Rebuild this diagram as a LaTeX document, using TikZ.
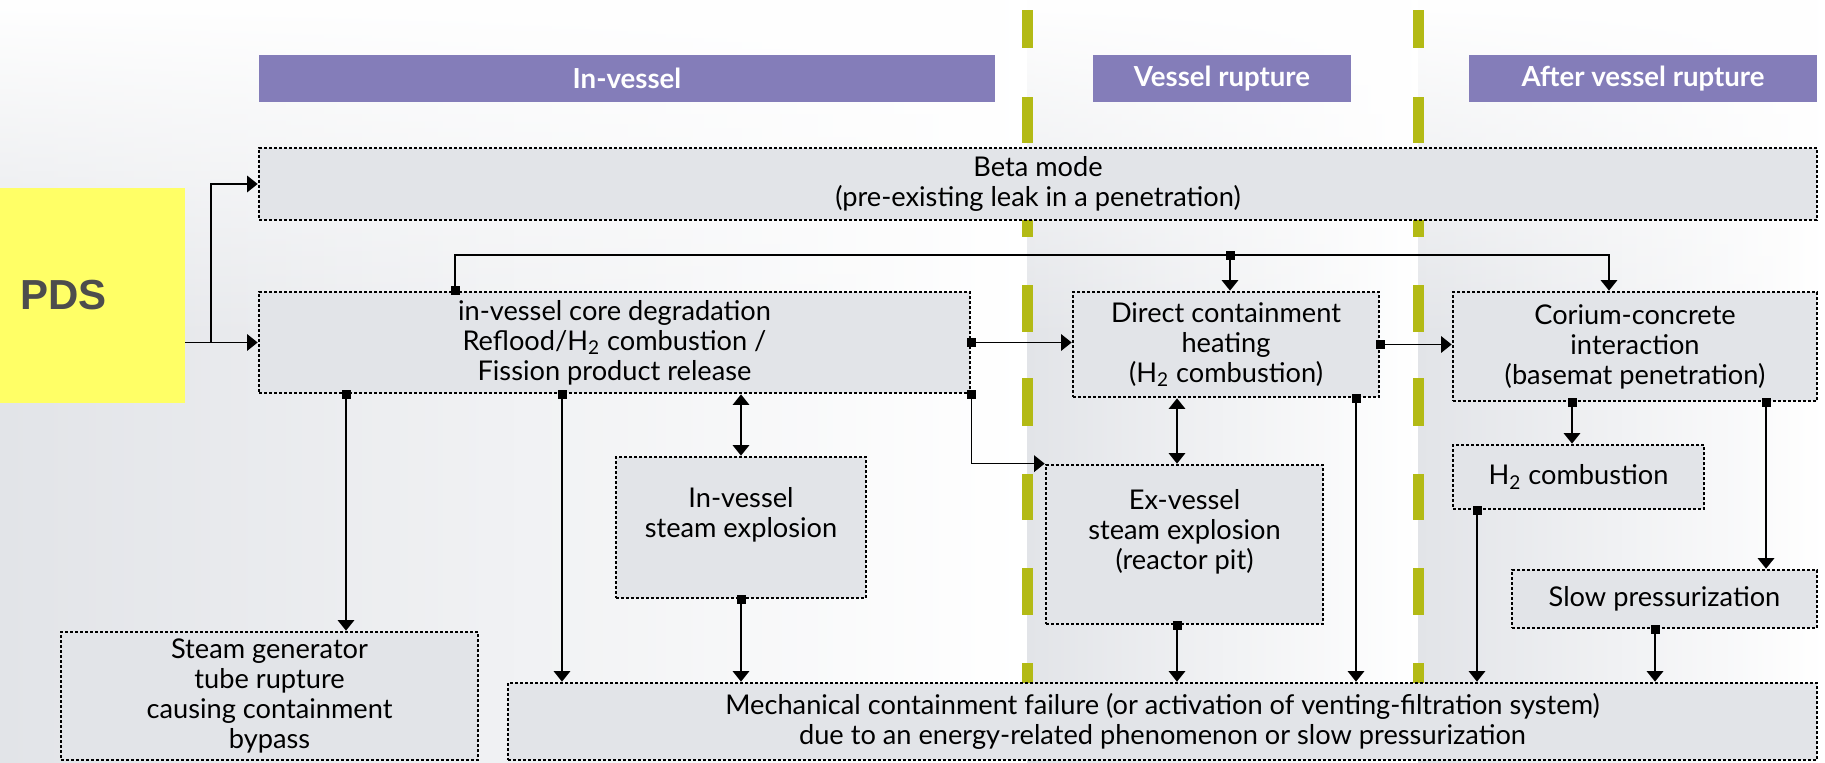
\documentclass[tikz,border=0pt]{standalone}
\usepackage{fontspec}
\setmainfont{Lato}
\newfontfamily\pdsfont{Liberation Sans}
\usepackage{tikz}
\usetikzlibrary{arrows.meta, calc, positioning, fadings}
\definecolor{phase}{HTML}{847DB9}
\definecolor{divider}{HTML}{B3BA15}
\definecolor{boxgrey}{HTML}{E2E4E8}
\definecolor{bggrey}{HTML}{E2E4E8}
\definecolor{pdsyellow}{HTML}{FFFF66}
\definecolor{pdstext}{HTML}{4D4D4D}
\newcommand{\Htwo}{H\textsubscript{2}}
\tikzstyle{phasebar} = [rectangle, fill=phase, text=white, minimum height=23.5pt, inner sep=0pt, font=\fontsize{13.8}{15}\selectfont\bfseries]
\tikzstyle{event} = [rectangle, draw=black, fill=boxgrey, line width=1.35pt, dash pattern=on 1.5pt off 1pt, align=center, inner sep=0pt, font=\fontsize{13.6}{15}\selectfont]
\tikzstyle{arrow} = [line width=0.75pt, -{Triangle[width=8.3pt,length=5.3pt]}]
\tikzstyle{link} = [line width=0.75pt, {Square[length=4.5pt,width=4.5pt]}-{Triangle[width=8.3pt,length=5.3pt]}, shorten <=-2.25pt]
\tikzstyle{twoway} = [line width=0.75pt, {Triangle[width=8.3pt,length=5.3pt]}-{Triangle[width=8.3pt,length=5.3pt]}]
\begin{document}
\begin{tikzpicture}[x=0.5pt, y=-0.5pt]
\useasboundingbox (0,0) rectangle (1825,762);
\fill[white] (0,0) rectangle (1825,762);
\shade[left color=bggrey, right color=white] (0,0) rectangle (1027,762);
\shade[left color=bggrey, right color=white] (1027,0) rectangle (1418,762);
\shade[left color=bggrey, right color=white] (1418,0) rectangle (1825,762);
\fill[white, path fading=south] (0,0) rectangle (1825,340);
\foreach \x in {1027,1418}
  \foreach \a/\b in {10/48,97/143,190/237,285/332,378/426,474/520,568/615,663/683}
    \fill[divider] (\x-5.5,\a) rectangle (\x+5.5,\b);

\node (invessel) [phasebar, minimum width=368pt] at (627,78.5) {In-vessel};
\node (rupture) [phasebar, minimum width=129pt] at (1222,78.5) {Vessel rupture};
\node (after) [phasebar, minimum width=174pt] at (1643,78.5) {After vessel rupture};
\node (pds) [fill=pdsyellow, text=pdstext, minimum height=107.5pt, text width=72.5pt, inner xsep=10pt, align=left, font=\pdsfont\fontsize{21}{24}\selectfont\bfseries] at (92.5,295.5) {PDS};

\node (beta) [event, minimum width=779pt, minimum height=36pt] at (1038,184) {Beta mode\\(pre-existing leak in a penetration)};
\node (core) [event, minimum width=355.5pt, minimum height=50.5pt] at (614.5,342.5) {in-vessel core degradation\\Reflood/\Htwo{} combustion /\\Fission product release};
\node (dch) [event, minimum width=153pt, minimum height=52.5pt] at (1226,344.5) {Direct containment\\heating\\(\Htwo{} combustion)};
\node (mcci) [event, minimum width=182pt, minimum height=54.5pt] at (1635,346.5) {Corium-concrete\\interaction\\(basemat penetration)};
\node (invse) [event, minimum width=125pt, minimum height=70.5pt] at (741,527.5) {In-vessel\\steam explosion\\\mbox{}};
\node (exvse) [event, minimum width=138.5pt, minimum height=79.5pt] at (1184.5,544.5) {Ex-vessel\\steam explosion\\(reactor pit)\\\mbox{}};
\node (hcomb) [event, minimum width=125.5pt, minimum height=32pt] at (1578.5,477) {\Htwo{} combustion};
\node (slow) [event, minimum width=152.5pt, minimum height=29pt] at (1664.5,599) {Slow pressurization};
\node (sgtr) [event, minimum width=208.5pt, minimum height=64pt] at (269.5,696) {Steam generator\\tube rupture\\causing containment\\bypass};
\node (failure) [event, minimum width=654.5pt, minimum height=38.5pt] at (1162.5,721.5) {Mechanical containment failure (or activation of venting-filtration system)\\due to an energy-related phenomenon or slow pressurization};

\coordinate (fork) at (211,0 |- core.west);
\coordinate (bus) at (1230,255);
\draw [arrow] (pds.east |- core.west) -- (core.west);
\draw [arrow] (fork) |- (beta.west);
\draw [link] (455,0 |- core.north) |- (bus) -| (1609,0 |- mcci.north);
\draw [link] (bus) -- (bus |- dch.north);
\draw [link] (core.east) -- (core.east -| dch.west);
\draw [link] (dch.east) -- (dch.east -| mcci.west);
\draw [link] (346,0 |- core.south) -- (346,0 |- sgtr.north);
\draw [link] (562,0 |- core.south) -- (562,0 |- failure.north);
\draw [twoway] (invse.north |- core.south) -- (invse.north);
\draw [link] (invse.south) -- (invse.south |- failure.north);
\draw [link] (core.south east) |- (exvse.north west);
\draw [twoway] (1177,0 |- dch.south) -- (1177,0 |- exvse.north);
\draw [link] (1177,0 |- exvse.south) -- (1177,0 |- failure.north);
\draw [link] (1356,0 |- dch.south) -- (1356,0 |- failure.north);
\draw [link] (1572,0 |- mcci.south) -- (1572,0 |- hcomb.north);
\draw [link] (1766,0 |- mcci.south) -- (1766,0 |- slow.north);
\draw [link] (1477,0 |- hcomb.south) -- (1477,0 |- failure.north);
\draw [link] (1655,0 |- slow.south) -- (1655,0 |- failure.north);
\end{tikzpicture}
\end{document}
